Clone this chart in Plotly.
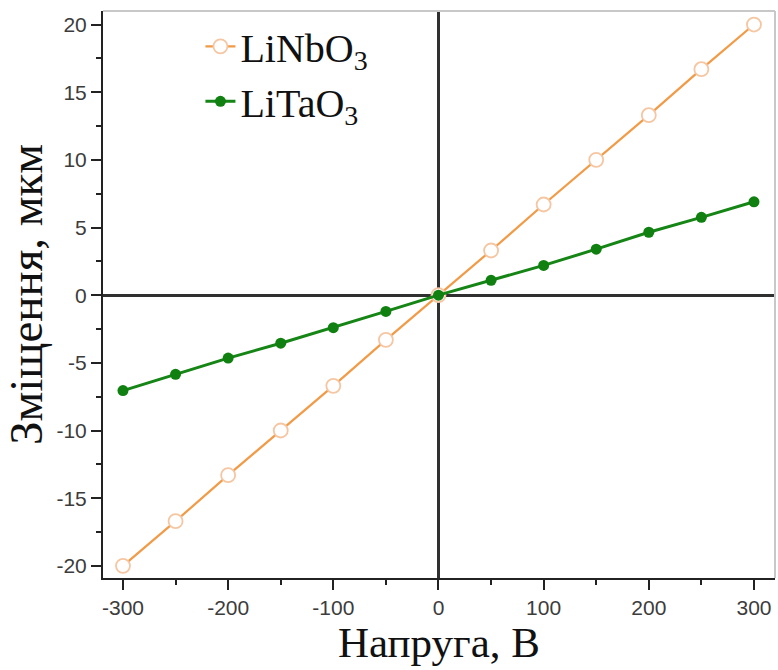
import plotly.graph_objects as go

# Applied voltage (V)
voltage = [-300, -250, -200, -150, -100, -50, 0, 50, 100, 150, 200, 250, 300]
# Displacement (um)
linbo3 = [-20.0, -16.7, -13.3, -10.0, -6.7, -3.3, 0.0, 3.3, 6.7, 10.0, 13.3, 16.7, 20.0]
litao3 = [-7.05, -5.85, -4.65, -3.55, -2.4, -1.2, 0.0, 1.1, 2.2, 3.4, 4.65, 5.75, 6.9]

x_ticks = [-300, -200, -100, 0, 100, 200, 300]
y_ticks = [-20, -15, -10, -5, 0, 5, 10, 15, 20]

fig = go.Figure()
fig.add_trace(go.Scatter(
    x=voltage, y=linbo3, name="LiNbO<sub>3</sub>", mode="lines+markers",
    line=dict(color="#f29a45", width=2.2),
    marker=dict(symbol="circle", size=14, color="white",
                line=dict(color="#f6c6a2", width=1.8)),
))
fig.add_trace(go.Scatter(
    x=voltage, y=litao3, name="LiTaO<sub>3</sub>", mode="lines+markers",
    line=dict(color="#158515", width=3),
    marker=dict(symbol="circle", size=11, color="#108010"),
))

tick_font = dict(family="Liberation Sans, Arial", size=21, color="#3c3c3c")
serif = "Liberation Serif, Times New Roman"

fig.update_layout(
    width=778, height=670,
    margin=dict(l=103, r=3, t=11, b=92),
    paper_bgcolor="white", plot_bgcolor="white",
    showlegend=True,
    legend=dict(
        x=0.145, y=0.995, xanchor="left", yanchor="top",
        bgcolor="rgba(0,0,0,0)",
        font=dict(family=serif, size=40, color="#111111"),
        tracegroupgap=0, itemwidth=30,
    ),
    xaxis=dict(
        range=[-319, 320], tickvals=x_ticks, ticktext=[str(v) for v in x_ticks],
        showgrid=False, zeroline=True, zerolinecolor="#303030", zerolinewidth=2.5,
        showline=True, linecolor="#222222", linewidth=2,
        ticks="outside", ticklen=10, tickwidth=2, tickcolor="#222222",
        minor=dict(dtick=50, tick0=-300, ticks="outside", ticklen=5, tickwidth=2,
                   tickcolor="#222222", showgrid=False),
        tickfont=tick_font,
        title=dict(text="Напруга, В", font=dict(family=serif, size=43, color="#111111"),
                   standoff=6),
    ),
    yaxis=dict(
        range=[-20.9, 21.0], tickvals=y_ticks, ticktext=[str(v) for v in y_ticks],
        showgrid=False, zeroline=True, zerolinecolor="#303030", zerolinewidth=2.5,
        showline=True, linecolor="#222222", linewidth=2,
        ticks="outside", ticklen=10, tickwidth=2, tickcolor="#222222",
        minor=dict(dtick=2.5, tick0=0, ticks="outside", ticklen=5, tickwidth=2,
                   tickcolor="#222222", showgrid=False),
        tickfont=tick_font,
        title=dict(text="Зміщення, мкм", font=dict(family=serif, size=47, color="#111111"),
                   standoff=6),
    ),
    shapes=[
        dict(type="line", xref="paper", yref="paper", x0=0, x1=1, y0=1, y1=1,
             line=dict(color="#c8c8c8", width=2)),
        dict(type="line", xref="paper", yref="paper", x0=1, x1=1, y0=0, y1=1,
             line=dict(color="#c8c8c8", width=2)),
    ],
)

fig.write_html("out.html")
